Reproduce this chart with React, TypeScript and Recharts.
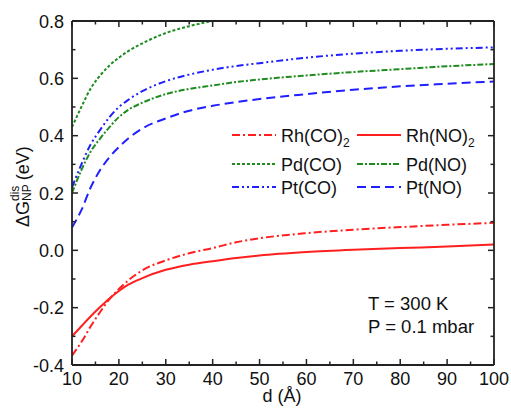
import { Line, LineChart, XAxis, YAxis } from "recharts";

const FONT = "'Liberation Sans', Arial, Helvetica, sans-serif";
const INK = "#222222";
const RED = "#ff1f1f";
const GREEN = "#1f8c1f";
const BLUE = "#1f1fff";

// particle diameter d (Å)
const dValues = [10, 12, 14, 16, 18, 20, 22, 25, 30, 35, 40, 45, 50, 60, 70, 80, 90, 100];

const rhCO2 = [-0.367, -0.32, -0.265, -0.215, -0.17, -0.135, -0.105, -0.07, -0.035, -0.01, 0.008, 0.028, 0.042, 0.06, 0.072, 0.081, 0.089, 0.096];
const rhNO2 = [-0.3, -0.265, -0.23, -0.198, -0.168, -0.142, -0.12, -0.097, -0.068, -0.05, -0.038, -0.027, -0.018, -0.006, 0.002, 0.008, 0.013, 0.02];
const pdCO = [0.43, 0.5, 0.565, 0.61, 0.645, 0.672, 0.695, 0.722, 0.758, 0.782, 0.8, 0.812, 0.822, 0.835, 0.845, 0.852, 0.858, 0.862];
const pdNO = [0.2, 0.28, 0.345, 0.39, 0.43, 0.465, 0.49, 0.515, 0.545, 0.563, 0.575, 0.587, 0.596, 0.61, 0.622, 0.632, 0.642, 0.65];
const ptCO = [0.22, 0.3, 0.37, 0.42, 0.465, 0.5, 0.525, 0.555, 0.59, 0.613, 0.63, 0.643, 0.653, 0.672, 0.686, 0.696, 0.703, 0.708];
const ptNO = [0.08, 0.14, 0.22, 0.28, 0.325, 0.36, 0.39, 0.425, 0.46, 0.487, 0.504, 0.517, 0.528, 0.545, 0.56, 0.572, 0.581, 0.589];

const xTicks = [10, 15, 20, 25, 30, 35, 40, 45, 50, 55, 60, 65, 70, 75, 80, 85, 90, 95, 100];
const yTicks = [-0.4, -0.3, -0.2, -0.1, 0, 0.1, 0.2, 0.3, 0.4, 0.5, 0.6, 0.7, 0.8];

const data = dValues.map((d, i) => ({
  d,
  rhCO2: rhCO2[i],
  rhNO2: rhNO2[i],
  pdCO: pdCO[i],
  pdNO: pdNO[i],
  ptCO: ptCO[i],
  ptNO: ptNO[i],
}));

const series = [
  { key: "rhCO2", label: "Rh(CO)", sub: "2", color: RED, dash: "8 3 2 3" },
  { key: "rhNO2", label: "Rh(NO)", sub: "2", color: RED, dash: undefined },
  { key: "pdCO", label: "Pd(CO)", sub: "", color: GREEN, dash: "3 2" },
  { key: "pdNO", label: "Pd(NO)", sub: "", color: GREEN, dash: "6 2 2 2" },
  { key: "ptCO", label: "Pt(CO)", sub: "", color: BLUE, dash: "7 3 2 3 2 3" },
  { key: "ptNO", label: "Pt(NO)", sub: "", color: BLUE, dash: "9 5" },
];

// ticks point inward; with tickSize 0 the tick props x/y sit on the axis line
function XTick(props: any) {
  const { x, y, payload, side } = props;
  const v = payload.value;
  const major = v % 10 === 0;
  const len = major ? 6 : 3.5;
  const y2 = side === "top" ? y + len : y - len;
  return (
    <g>
      <line x1={x} x2={x} y1={y} y2={y2} stroke={INK} strokeWidth={1.5} />
      {side !== "top" && major && (
        <text x={x} y={y + 20} textAnchor="middle" fontSize={18} fontFamily={FONT} fill="#111" stroke="none">
          {v}
        </text>
      )}
    </g>
  );
}

function YTick(props: any) {
  const { x, y, payload, side } = props;
  const v = payload.value;
  const major = Math.round(v * 10) % 2 === 0;
  const len = major ? 6 : 3.5;
  const x2 = side === "right" ? x - len : x + len;
  return (
    <g>
      <line x1={x} x2={x2} y1={y} y2={y} stroke={INK} strokeWidth={1.5} />
      {side !== "right" && major && (
        <text x={x - 8} y={y + 6.5} textAnchor="end" fontSize={18} fontFamily={FONT} fill="#111" stroke="none">
          {v.toFixed(1)}
        </text>
      )}
    </g>
  );
}

const legendCols = [232, 357];
const legendRows = [135, 164, 187];

const axisLineStyle = { stroke: INK, strokeWidth: 1.8 };

export default function App() {
  return (
    <div style={{ position: "absolute", left: 0, top: 0, width: 511, height: 408 }}>
      <LineChart width={511} height={408} data={data} margin={{ top: 20, right: 16, bottom: 13, left: 0 }}>
        <XAxis
          dataKey="d"
          type="number"
          domain={[10, 100]}
          ticks={xTicks}
          interval={0}
          allowDataOverflow
          height={30}
          tickSize={0}
          tickMargin={0}
          axisLine={axisLineStyle}
          tick={(p: any) => <XTick {...p} side="bottom" />}
        />
        <XAxis
          xAxisId="top"
          orientation="top"
          dataKey="d"
          type="number"
          domain={[10, 100]}
          ticks={xTicks}
          interval={0}
          allowDataOverflow
          height={1}
          tickSize={0}
          tickMargin={0}
          axisLine={axisLineStyle}
          tick={(p: any) => <XTick {...p} side="top" />}
        />
        <YAxis
          type="number"
          domain={[-0.4, 0.8]}
          ticks={yTicks}
          interval={0}
          allowDataOverflow
          width={72}
          tickSize={0}
          tickMargin={0}
          axisLine={axisLineStyle}
          tick={(p: any) => <YTick {...p} side="left" />}
        />
        <YAxis
          yAxisId="right"
          orientation="right"
          type="number"
          domain={[-0.4, 0.8]}
          ticks={yTicks}
          interval={0}
          allowDataOverflow
          width={1}
          tickSize={0}
          tickMargin={0}
          axisLine={axisLineStyle}
          tick={(p: any) => <YTick {...p} side="right" />}
        />
        {series.map((s) => (
          <Line
            key={s.key}
            dataKey={s.key}
            type="monotone"
            stroke={s.color}
            strokeWidth={2}
            strokeDasharray={s.dash}
            dot={false}
            isAnimationActive={false}
          />
        ))}
      </LineChart>
      <svg
        width={511}
        height={408}
        style={{ position: "absolute", left: 0, top: 0, pointerEvents: "none" }}
        fontFamily={FONT}
      >
        {series.map((s, i) => {
          const cx = legendCols[i % 2];
          const cy = legendRows[Math.floor(i / 2)];
          return (
            <g key={s.key}>
              <line x1={cx} x2={cx + 44} y1={cy} y2={cy} stroke={s.color} strokeWidth={2} strokeDasharray={s.dash} />
              <text x={cx + 49} y={cy + 6.5} fontSize={18} fill="#111">
                {s.label}
                {s.sub && (
                  <tspan fontSize={12} dy={5}>
                    {s.sub}
                  </tspan>
                )}
              </text>
            </g>
          );
        })}
        <text x={368} y={310} fontSize={18.5} fill="#111">T = 300 K</text>
        <text x={368} y={333} fontSize={18.5} fill="#111">P = 0.1 mbar</text>
        <text x={282} y={402} fontSize={18} textAnchor="middle" fill="#111">d (Å)</text>
        <text transform="translate(29,227) rotate(-90)" fontSize={18} fill="#111">
          <tspan>ΔG</tspan>
          <tspan fontSize={12} dy={-10}>dis</tspan>
          <tspan fontSize={12} dx={-15.3} dy={12}>NP</tspan>
          <tspan dx={4} dy={-2}>(eV)</tspan>
        </text>
      </svg>
    </div>
  );
}
